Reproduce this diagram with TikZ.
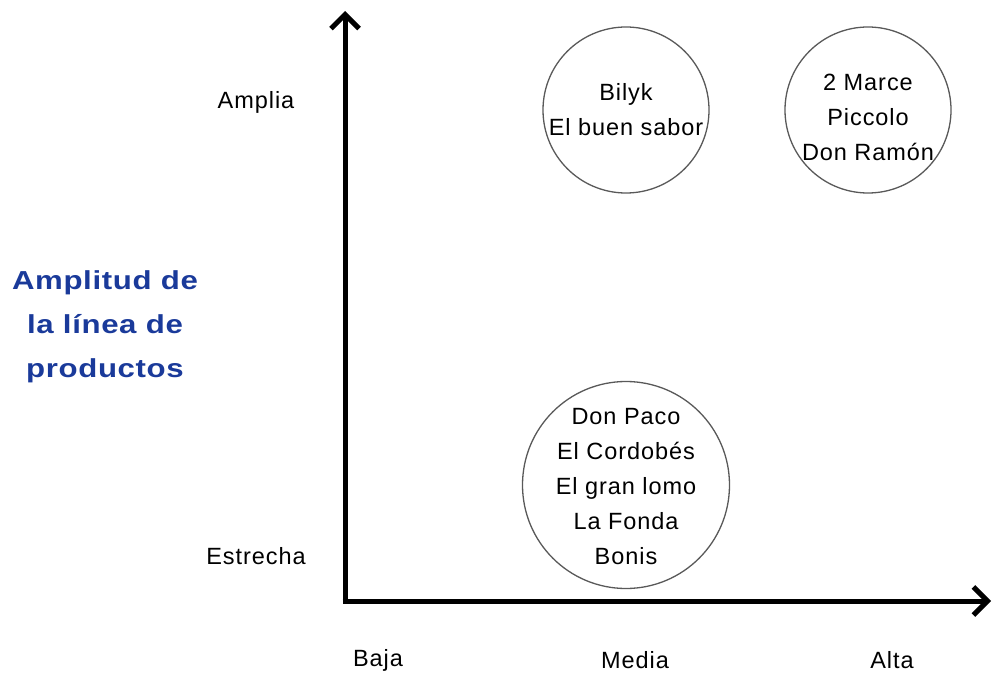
\documentclass[tikz,border=0pt]{standalone}
\usepackage{fontspec}
\setmainfont{Liberation Sans}[LetterSpace=4]
\newfontfamily\titlefont[LetterSpace=2]{Liberation Sans}
\usetikzlibrary{arrows.meta}
\definecolor{titleblue}{HTML}{1A3A9A}
\begin{document}
\begin{tikzpicture}[x=1pt,y=-1pt,
  lbl/.style={font=\fontsize{23.5}{35}\selectfont, align=center, inner sep=0pt},
  grp/.style={circle, draw=black!65, line width=1.3pt, inner sep=0pt},
  axis/.style={line width=5pt, -{Straight Barb[length=14pt,width=28pt,line width=5pt]}},
  ttl/.style={font=\titlefont\bfseries\fontsize{26}{44}\selectfont, text=titleblue, align=center, inner sep=0pt, xscale=1.2, transform shape}]
\useasboundingbox (0,0) rectangle (994,679);
\coordinate (O) at (345,601);
\coordinate (ytip) at (345,11);
\coordinate (xtip) at (991,601);
\draw[axis] (345,603.5) -- (ytip);
\draw[axis] (342.5,601) -- (xtip);
\node[grp, minimum size=166pt] (c1) at (626,110) {};
\node[grp, minimum size=166pt] (c2) at (868,110) {};
\node[grp, minimum size=207pt] (c3) at (626,485) {};
\node[lbl] (t1) at (626,110) {Bilyk\\El buen sabor};
\node[lbl] (t2) at (868,117) {2 Marce\\Piccolo\\Don Ramón};
\node[lbl] (t3) at (626,487) {Don Paco\\El Cordobés\\El gran lomo\\La Fonda\\Bonis};
\node[lbl] (amp) at (256,102) {Amplia};
\node[lbl] (est) at (256,556) {Estrecha};
\node[lbl] (baja) at (378,660) {Baja};
\node[lbl] (media) at (635,660) {Media};
\node[lbl] (alta) at (892,660) {Alta};
\node[ttl] (title) at (105,327) {Amplitud de\\la línea de\\productos};
\end{tikzpicture}
\end{document}
